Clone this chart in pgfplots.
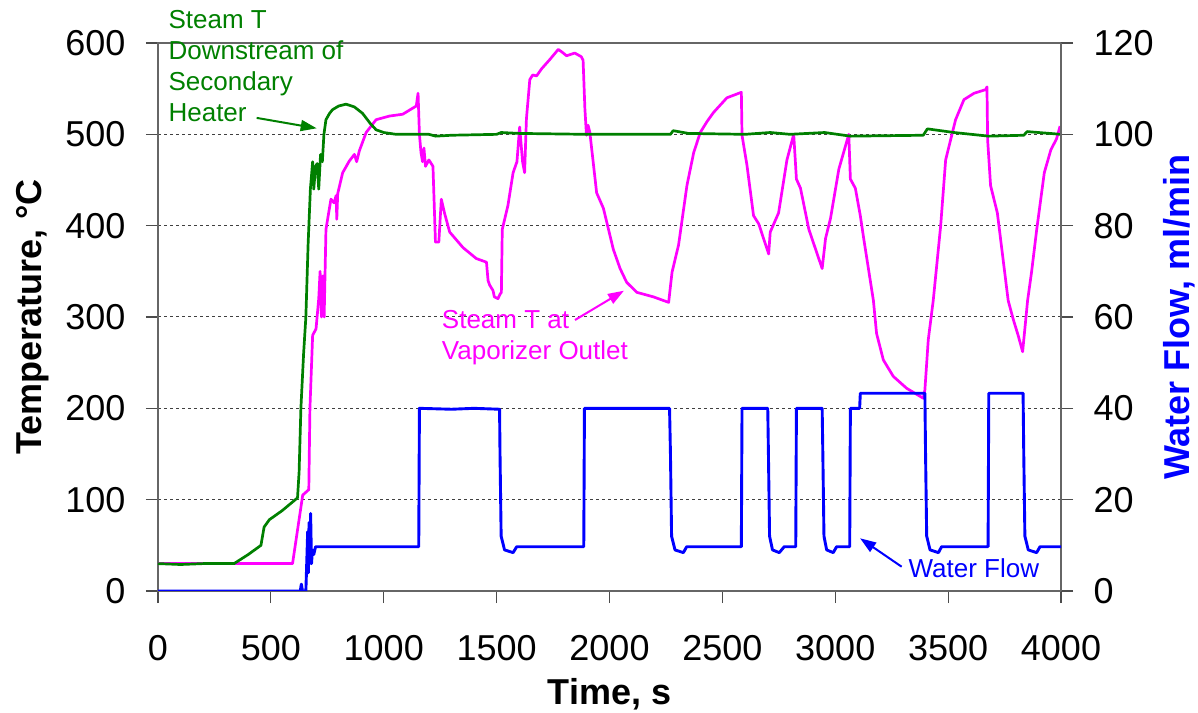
\documentclass[border=0pt]{standalone}
\usepackage{fontspec}
\setmainfont{Liberation Sans}
\usepackage{pgfplots}
\pgfplotsset{compat=1.18}
\usetikzlibrary{arrows.meta}
\definecolor{sgreen}{RGB}{0,128,0}
\definecolor{smag}{RGB}{255,0,255}
\definecolor{sblue}{RGB}{0,0,255}
\newcommand{\tickfont}{\fontsize{36bp}{42bp}\selectfont}
\newcommand{\labfont}{\fontsize{36bp}{42bp}\selectfont\bfseries}
\newcommand{\annfont}{\fontsize{26bp}{31bp}\selectfont}
\begin{document}
\begin{tikzpicture}
\path[use as bounding box] (0,0) rectangle (1198bp,713bp);
\begin{axis}[
  at={(158bp,122bp)}, anchor=south west,
  width=903bp, height=548bp, scale only axis,
  xmin=0, xmax=4000, ymin=0, ymax=600,
  xtick={0,500,...,4000}, ytick={0,100,...,600},
  xtick pos=bottom, ytick pos=left,
  tick align=outside, major tick length=12bp,
  ymajorgrids,
  major grid style={dash pattern=on 3bp off 3bp, line width=1bp, black!75},
  axis line style={line width=1.2bp, black!60},
  major tick style={line width=1.2bp, black!70},
  ticklabel style={font=\tickfont},
  xticklabel style={yshift=-29bp},
  yticklabel style={xshift=-17bp},
  /pgf/number format/assume math mode=true,
  /pgf/number format/1000 sep={},
  scaled ticks=false,
  xlabel={Time, s}, ylabel={Temperature, °C},
  every axis x label/.style={at={(axis description cs:0.5,-0.208)}, anchor=base, font=\labfont},
  every axis y label/.style={at={(axis description cs:-0.1285,0.5)}, anchor=base, rotate=90, font=\labfont},
  clip=false,
]
\addplot[smag, line width=2.7bp, line join=round] coordinates {
(0,30) (300,30) (596,30) (641,105) (668,111) (673,200) (685,280) (700,287) (712,320) (718,350) (724,300) (730,345) (736,300) (744,396) (766,429) (780,425) (789,433) (792,407) (796,435) (818,458) (848,471) (870,478) (880,470) (892,482) (922,502) (966,516) (1025,520) (1084,522) (1144,531) (1152,545) (1158,500) (1165,480) (1172,470) (1178,485) (1185,465) (1200,472) (1218,465) (1229,382) (1244,382) (1255,429) (1269,414) (1292,393) (1351,376) (1410,364) (1455,360) (1462,340) (1469,335) (1484,329) (1490,322) (1506,320) (1515,325) (1521,327) (1525,396) (1550,422) (1573,458) (1590,470) (1602,508) (1615,470) (1624,458) (1632,517) (1647,560) (1660,565) (1677,564) (1700,572) (1736,582) (1773,593) (1790,590) (1810,586) (1846,589) (1875,585) (1883,581) (1891,528) (1898,499) (1905,510) (1913,502) (1928,469) (1943,436) (1973,419) (2017,374) (2047,353) (2076,338) (2121,327) (2195,322) (2262,316) (2277,349) (2306,379) (2343,444) (2373,480) (2402,502) (2432,514) (2461,524) (2520,540) (2584,546) (2587,499) (2609,466) (2638,411) (2661,402) (2705,369) (2712,393) (2749,414) (2786,472) (2816,500) (2828,451) (2846,441) (2883,396) (2942,353) (2957,386) (2979,408) (3016,462) (3060,500) (3067,451) (3089,441) (3111,411) (3126,386) (3169,318) (3183,282) (3213,253) (3257,235) (3316,222) (3390,211) (3397,220) (3412,275) (3434,318) (3467,400) (3489,472) (3511,494) (3533,516) (3570,538) (3615,545) (3667,549) (3672,552) (3675,494) (3688,444) (3718,414) (3747,356) (3766,318) (3789,297) (3810,280) (3830,262) (3852,318) (3870,350) (3892,395) (3926,458) (3955,483) (3980,495) (3996,509)
};
\addplot[sgreen, line width=2.7bp, line join=round] coordinates {
(0,30) (100,29) (200,30) (337,30) (400,40) (456,50) (470,70) (493,78) (550,88) (618,102) (625,130) (633,200) (645,260) (655,300) (665,380) (675,440) (685,470) (690,440) (698,465) (705,468) (712,440) (720,478) (728,470) (735,500) (744,516) (760,523) (773,527) (800,531) (833,533) (870,530) (906,523) (940,512) (966,505) (1000,502) (1055,500) (1200,500) (1230,498) (1300,499) (1500,500) (1520,502) (1600,501) (1900,500) (2270,500) (2282,504) (2350,501) (2600,500) (2712,502) (2800,500) (2953,502) (3067,498) (3390,499) (3408,506) (3526,502) (3680,498) (3835,499) (3850,503) (4000,500)
};
\node[smag, font=\annfont, align=left, anchor=north west, inner sep=0pt] at (axis cs:1257,308) {Steam T at\\Vaporizer Outlet};
\node[sgreen, font=\annfont, align=left, anchor=north west, inner sep=0pt] at (axis cs:46,636) {Steam T\\Downstream of\\Secondary\\Heater};
\node[sblue, font=\annfont, align=left, anchor=north west, inner sep=0pt] at (axis cs:3324,36) {Water Flow};
\draw[sgreen, line width=2bp, -{Triangle[length=16bp,width=11bp]}] (axis cs:437,518) -- (axis cs:703,506.6);
\draw[smag, line width=2bp, -{Triangle[length=16bp,width=11bp]}] (axis cs:1847,296.7) -- (axis cs:2064,328.8);
\draw[sblue, line width=2bp, -{Triangle[length=16bp,width=11bp]}] (axis cs:3294,26.6) -- (axis cs:3110,57.7);
\end{axis}
\begin{axis}[
  at={(158bp,122bp)}, anchor=south west,
  width=903bp, height=548bp, scale only axis,
  xmin=0, xmax=4000, ymin=0, ymax=120,
  axis x line=none, axis y line*=right,
  ytick={0,20,...,120}, ytick pos=right,
  tick align=outside, major tick length=12bp,
  axis line style={line width=1.2bp, black!60},
  major tick style={line width=1.2bp, black!70},
  ticklabel style={font=\tickfont},
  yticklabel style={xshift=17bp},
  /pgf/number format/assume math mode=true,
  ylabel={Water Flow, ml/min},
  every axis y label/.style={at={(axis description cs:1.1425,0.5)}, anchor=base, rotate=90, font=\labfont, text=sblue},
]
\addplot[sblue, line width=2.9bp, line join=round] coordinates {
(0,0) (630,0) (635,1.5) (640,0) (655,0) (660,8) (663,13) (666,4) (669,15) (672,6) (676,17) (680,6) (684,9) (690,8) (698,9.7) (1155,9.7) (1158,40) (1300,39.8) (1400,40) (1513,39.8) (1515,30) (1520,12) (1535,9) (1573,8.4) (1589,9.7) (1886,9.7) (1889,40) (2266,40) (2270,30) (2275,12) (2290,9) (2327,8.4) (2342,9.7) (2584,9.7) (2587,40) (2701,40) (2704,30) (2709,12) (2722,9) (2752,8.4) (2774,9.7) (2825,9.7) (2828,40) (2942,40) (2945,30) (2950,12) (2962,9) (2991,8.4) (3006,9.7) (3064,9.7) (3067,40) (3108,40) (3111,43.3) (3397,43.3) (3400,30) (3405,12) (3420,9) (3457,8.4) (3471,9.7) (3677,9.7) (3680,43.3) (3832,43.3) (3835,30) (3840,12) (3855,9) (3892,8.4) (3907,9.7) (4000,9.7)
};
\end{axis}
\end{tikzpicture}
\end{document}
